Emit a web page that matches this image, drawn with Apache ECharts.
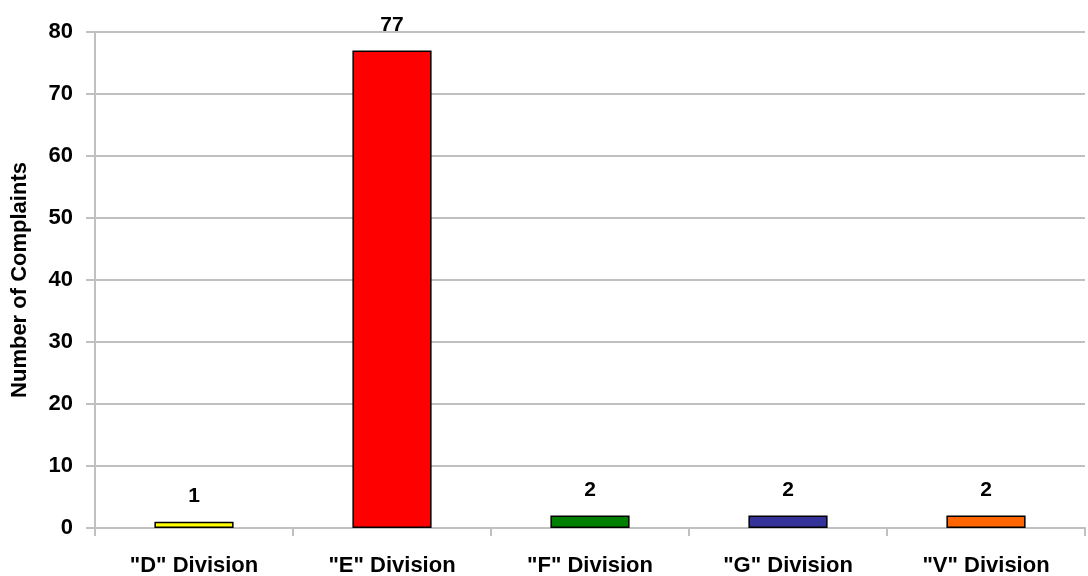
<!DOCTYPE html>
<html>
<head>
<meta charset="utf-8">
<script src="https://cdn.jsdelivr.net/npm/echarts@6/dist/echarts.min.js"></script>
<style>
  html, body { margin: 0; padding: 0; background: #fff; }
  #chart { width: 1088px; height: 576px; }
</style>
</head>
<body>
<div id="chart"></div>
<script>
// Complaints per division
const categories = ['"D" Division', '"E" Division', '"F" Division', '"G" Division', '"V" Division'];
const complaints = [1, 77, 2, 2, 2];
const barColors = ['#ffff00', '#ff0000', '#008000', '#333399', '#ff6600'];
const yTicks = { min: 0, max: 80, interval: 10 };

const FONT = 'Liberation Sans, Arial, sans-serif';

const chart = echarts.init(document.getElementById('chart'));
chart.setOption({
  backgroundColor: '#ffffff',
  animation: false,
  grid: { left: 95, right: 3, top: 32, bottom: 48, containLabel: false, outerBoundsMode: 'none' },
  xAxis: {
    type: 'category',
    data: categories,
    axisLine: { lineStyle: { color: '#c0c0c0', width: 2 } },
    axisTick: { show: true, alignWithLabel: false, length: 8, lineStyle: { color: '#c0c0c0', width: 2 } },
    axisLabel: { color: '#000', fontFamily: FONT, fontWeight: 'bold', fontSize: 22, margin: 27 }
  },
  yAxis: {
    type: 'value',
    min: yTicks.min, max: yTicks.max, interval: yTicks.interval,
    name: 'Number of Complaints',
    nameLocation: 'middle',
    nameGap: 64,
    nameTextStyle: { color: '#000', fontFamily: FONT, fontWeight: 'bold', fontSize: 22 },
    axisLine: { show: true, lineStyle: { color: '#c0c0c0', width: 2 } },
    axisTick: { show: true, length: 9, lineStyle: { color: '#c0c0c0', width: 2 } },
    splitLine: { lineStyle: { color: '#c0c0c0', width: 2 } },
    axisLabel: { color: '#000', fontFamily: FONT, fontWeight: 'bold', fontSize: 22, margin: 22 }
  },
  series: [{
    type: 'bar',
    data: complaints.map((v, i) => ({ value: v, itemStyle: { color: barColors[i] } })),
    barWidth: '40%',
    itemStyle: { borderColor: '#000', borderWidth: 1.5 },
    label: {
      show: true, position: 'top', distance: 15,
      color: '#000', fontFamily: FONT, fontWeight: 'bold', fontSize: 21
    }
  }]
});
</script>
</body>
</html>
